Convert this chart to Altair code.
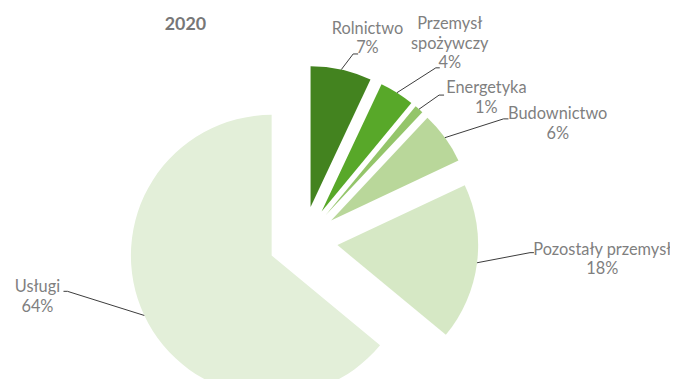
import altair as alt
import numpy as np
import pandas as pd

# ---------------- data ----------------
categories = ["Rolnictwo", "Przemysł spożywczy", "Energetyka", "Budownictwo",
              "Pozostały przemysł", "Usługi"]
values = [7, 4, 1, 6, 18, 64]
label_texts = ["Rolnictwo\n7%", "Przemysł\nspożywczy\n4%", "Energetyka\n1%",
               "Budownictwo\n6%", "Pozostały przemysł\n18%", "Usługi\n64%"]
colors = ["#43831f", "#58a829", "#94c56a", "#b9d79a", "#d6e8c5", "#e3efd9"]
title_text = "2020"

# ---------------- layout (style, not data) ----------------
W, H = 668, 371
CX, CY = 297.7, 233.2          # pie centre in view pixels
R = 142                         # pie radius
EXPLODE = 35                    # explosion distance of each slice
LINE_H = 20
# label centres and leader elbows, relative to the pie centre
label_off = [(65, -204), (148, -199), (185, -144), (257, -118), (302, 19), (-268, 57)]
elbow_off = [(50.6, -188.5), (134, -174.5), (137.3, -147), (202.3, -123), (229, 12), (-237.7, 51)]
tail_len = [5, 4, 5, 5, 4, -4]

# ---------------- geometry derived from values ----------------
vals = np.array(values, dtype=float)
frac = vals / vals.sum()
t1 = np.cumsum(frac) * 2 * np.pi
t0 = t1 - frac * 2 * np.pi
mid = (t0 + t1) / 2
cx = CX + EXPLODE * np.sin(mid)
cy = CY - EXPLODE * np.cos(mid)

arcs = pd.DataFrame({"category": categories, "value": values,
                     "t0": t0, "t1": t1, "cx": cx, "cy": cy})

labels = pd.DataFrame({
    "category": categories,
    "text": label_texts,
    "lx": [CX + o[0] for o in label_off],
    "ly": [CY + o[1] - (t.count("\n")) * LINE_H / 2 for o, t in zip(label_off, label_texts)],
})

rows = []
for i, c in enumerate(categories):
    sx = cx[i] + R * np.sin(mid[i])
    sy = cy[i] - R * np.cos(mid[i])
    ex, ey = CX + elbow_off[i][0], CY + elbow_off[i][1]
    rows.append({"category": c, "o": 0, "x": sx, "y": sy})
    rows.append({"category": c, "o": 1, "x": ex, "y": ey})
    rows.append({"category": c, "o": 2, "x": ex + tail_len[i], "y": ey})
leaders = pd.DataFrame(rows)

FONT = "Lato"

pie = alt.Chart(arcs).mark_arc(radius=R, stroke=None).encode(
    theta=alt.Theta("t0:Q", scale=None),
    theta2="t1:Q",
    x=alt.X("cx:Q", scale=None, axis=None),
    y=alt.Y("cy:Q", scale=None, axis=None),
    color=alt.Color("category:N", scale=alt.Scale(domain=categories, range=colors), legend=None),
)

lines = alt.Chart(leaders).mark_line(color="#3a3a3a", strokeWidth=1).encode(
    x=alt.X("x:Q", scale=None, axis=None),
    y=alt.Y("y:Q", scale=None, axis=None),
    detail="category:N",
    order="o:Q",
)

text = alt.Chart(labels).mark_text(
    font=FONT, fontSize=16.5, color="#7f7f7f", lineBreak="\n", lineHeight=LINE_H,
    align="center", baseline="middle",
).encode(
    x=alt.X("lx:Q", scale=None, axis=None),
    y=alt.Y("ly:Q", scale=None, axis=None),
    text="text:N",
)

title = alt.Chart(pd.DataFrame({"t": [title_text]})).mark_text(
    font=FONT, fontSize=18, fontWeight="bold", color="#777777", align="center", baseline="middle",
).encode(x=alt.value(179), y=alt.value(16), text="t:N")

chart = alt.layer(pie, lines, text, title).properties(
    width=W, height=H, padding=0, autosize=alt.AutoSizeParams(type="none"),
).configure_view(stroke=None)

chart.save("out.html", embed_options={"renderer": "svg", "actions": False})
